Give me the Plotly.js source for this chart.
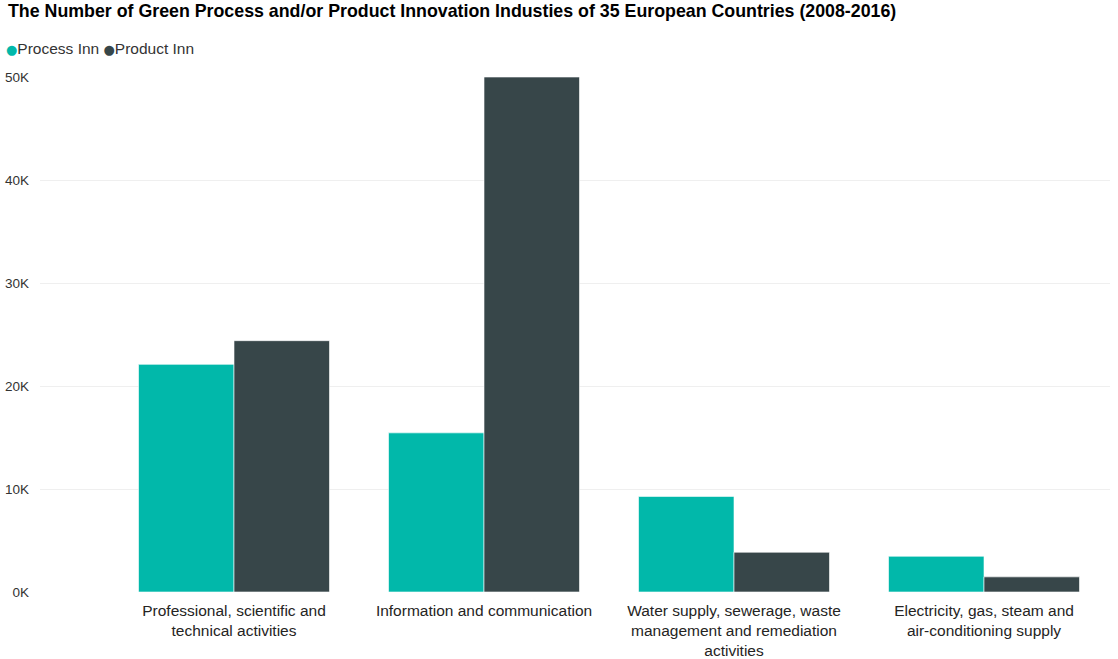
<!DOCTYPE html>
<html>
<head>
<meta charset="utf-8">
<script src="https://cdn.plot.ly/plotly-3.0.1.min.js"></script>
<style>
html,body{margin:0;padding:0;background:#fff;}
#chart{width:1118px;height:659px;}
</style>
</head>
<body>
<div id="chart"></div>
<script>
const categories = [
  "Professional, scientific and<br>technical activities",
  "Information and communication",
  "Water supply, sewerage, waste<br>management and remediation<br>activities",
  "Electricity, gas, steam and<br>air-conditioning supply"
];
const processInn = [22100, 15450, 9280, 3470];
const productInn = [24400, 50000, 3860, 1470];
const seriesNames = ["Process Inn", "Product Inn"];
const seriesColors = ["#01B8AA", "#374649"];
const yTickVals = [0, 10000, 20000, 30000, 40000, 50000];
const yTickText = ["0K", "10K", "20K", "30K", "40K", "50K"];

const FONT = "Liberation Sans, Arial, sans-serif";

const traces = [processInn, productInn].map((vals, i) => ({
  type: "bar",
  name: seriesNames[i],
  x: categories,
  y: vals,
  marker: {color: seriesColors[i], line: {color: "rgba(255,255,255,0.6)", width: 1}},
  showlegend: false,
  hoverinfo: "x+y+name"
}));

const legendAnn = {
  xref: "paper", yref: "paper",
  x: (4 - 40) / 1070, y: (592.5 - 48) / 515.5,
  xanchor: "left", yanchor: "middle", showarrow: false,
  text: seriesNames.map((n, i) => `<span style="color:${seriesColors[i]};font-family:DejaVu Sans;font-size:13px">●</span>${n}`).join(" "),
  font: {family: FONT, size: 15.5, color: "#333333"}
};

const layout = {
  width: 1118, height: 659,
  margin: {l: 40, r: 8, t: 77, b: 66.5},
  paper_bgcolor: "#ffffff", plot_bgcolor: "#ffffff",
  title: {
    text: "<b>The Number of Green Process and/or Product Innovation Industies of 35 European Countries (2008-2016)</b>",
    x: 0, xref: "container", xanchor: "left", y: 1, yref: "container", yanchor: "top",
    pad: {l: 8, t: 5},
    font: {family: FONT, size: 17.8, color: "#000000"}
  },
  barmode: "group",
  bargap: 0.236,
  bargroupgap: 0,
  xaxis: {
    type: "category",
    range: [-0.776, 3.504],
    showgrid: false, zeroline: false, showline: false,
    ticks: "", ticklabelstandoff: 7,
    tickfont: {family: FONT, size: 15.5, color: "#252423"}
  },
  yaxis: {
    range: [0, 50000],
    tickvals: yTickVals, ticktext: yTickText,
    showgrid: true, gridcolor: "#EFEFEF", gridwidth: 1,
    zeroline: false, showline: false, ticks: "",
    ticklabelstandoff: 10,
    tickfont: {family: FONT, size: 13.5, color: "#333333"}
  },
  annotations: [legendAnn],
  font: {family: FONT}
};

Plotly.newPlot("chart", traces, layout, {displayModeBar: false, staticPlot: true});
</script>
</body>
</html>
